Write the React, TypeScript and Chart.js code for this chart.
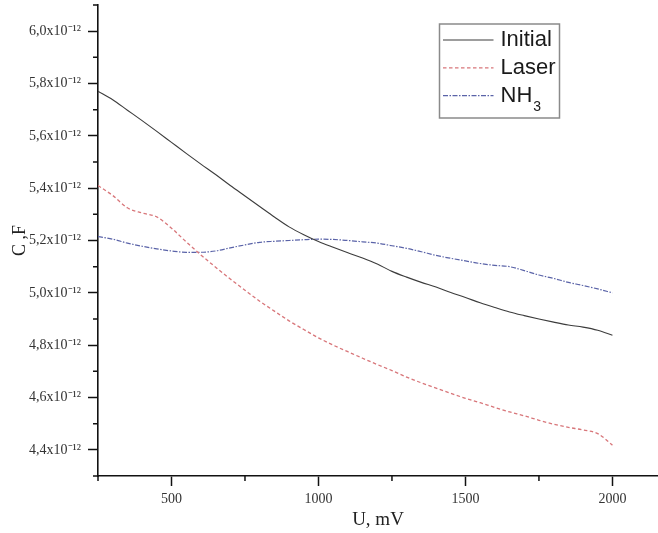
import React, { useEffect, useRef } from "react";
import { Chart, registerables } from "chart.js";

Chart.register(...registerables);

// U, mV
const voltage = [
  250, 300, 350, 400, 450, 500, 550, 600, 650, 700, 750, 800, 850, 900, 950, 1000,
  1050, 1100, 1150, 1200, 1250, 1300, 1350, 1400, 1450, 1500, 1550, 1600, 1650,
  1700, 1750, 1800, 1850, 1900, 1950, 2000,
];

// C, x10^-12 F
const initialC = [
  5.770, 5.738, 5.698, 5.658, 5.617, 5.575, 5.533, 5.492, 5.452, 5.410, 5.370,
  5.330, 5.290, 5.252, 5.222, 5.196, 5.174, 5.153, 5.133, 5.110, 5.082, 5.060,
  5.040, 5.022, 5.001, 4.982, 4.962, 4.944, 4.927, 4.913, 4.900, 4.888, 4.877,
  4.869, 4.857, 4.838,
];

const laserC = [
  5.410, 5.372, 5.325, 5.305, 5.290, 5.247, 5.195, 5.145, 5.098, 5.053, 5.010,
  4.968, 4.930, 4.893, 4.860, 4.828, 4.800, 4.775, 4.750, 4.726, 4.703, 4.678,
  4.656, 4.636, 4.616, 4.597, 4.580, 4.562, 4.545, 4.530, 4.513, 4.498, 4.486,
  4.476, 4.462, 4.418,
];

const nh3C = [
  5.215, 5.205, 5.190, 5.178, 5.168, 5.160, 5.155, 5.155, 5.160, 5.172, 5.183,
  5.193, 5.197, 5.200, 5.203, 5.205, 5.204, 5.200, 5.195, 5.190, 5.180, 5.170,
  5.157, 5.143, 5.132, 5.122, 5.112, 5.105, 5.100, 5.085, 5.068, 5.055, 5.040,
  5.028, 5.015, 5.000,
];

const seriesNames = ["Initial", "Laser", "NH₃"];

const xMajorTicks = [500, 1000, 1500, 2000];
const xMinorTicks = [250, 750, 1250, 1750];
const yMajorTicks = [4.4, 4.6, 4.8, 5.0, 5.2, 5.4, 5.6, 5.8, 6.0];
const yMinorTicks = [4.3, 4.5, 4.7, 4.9, 5.1, 5.3, 5.5, 5.7, 5.9, 6.1];

const xTitle = "U, mV";
const yTitle = "C ,F";

const SERIF = "'Liberation Serif', 'Times New Roman', serif";
const SANS = "'Liberation Sans', Arial, sans-serif";

const minorTickPlugin = {
  id: "minorTicks",
  afterDraw(chart: any, _args: any, opts: any) {
    const { ctx, chartArea } = chart;
    const xs = chart.scales.x;
    const ys = chart.scales.y;
    ctx.save();
    ctx.strokeStyle = opts.color;
    ctx.lineWidth = opts.width;
    ctx.beginPath();
    xMinorTicks.forEach((v) => {
      const px = xs.getPixelForValue(v);
      ctx.moveTo(px, chartArea.bottom);
      ctx.lineTo(px, chartArea.bottom + opts.length);
    });
    yMinorTicks.forEach((v) => {
      const py = ys.getPixelForValue(v);
      ctx.moveTo(chartArea.left, py);
      ctx.lineTo(chartArea.left - opts.length, py);
    });
    ctx.stroke();
    ctx.restore();
  },
};

const boxLegendPlugin = {
  id: "boxLegend",
  afterDraw(chart: any, _args: any, o: any) {
    const ctx = chart.ctx;
    ctx.save();
    ctx.strokeStyle = o.borderColor;
    ctx.lineWidth = o.borderWidth;
    ctx.strokeRect(o.left, o.top, o.width, o.height);
    chart.data.datasets.forEach((ds: any, i: number) => {
      const y = o.top + o.firstRow + i * o.rowGap;
      ctx.beginPath();
      ctx.setLineDash(ds.borderDash || []);
      ctx.strokeStyle = ds.borderColor;
      ctx.lineWidth = ds.borderWidth;
      ctx.moveTo(o.left + o.lineStart, y);
      ctx.lineTo(o.left + o.lineEnd, y);
      ctx.stroke();
      ctx.setLineDash([]);
      ctx.fillStyle = o.textColor;
      ctx.textBaseline = "middle";
      ctx.textAlign = "left";
      let x = o.left + o.textStart;
      const label: string = ds.label;
      for (const ch of label) {
        const code = ch.charCodeAt(0);
        if (code >= 0x2080 && code <= 0x2089) {
          ctx.font = `${o.subSize}px ${SANS}`;
          const s = String(code - 0x2080);
          ctx.fillText(s, x + 1, y + o.subOffset);
          x += ctx.measureText(s).width + 1;
        } else {
          ctx.font = `${o.fontSize}px ${SANS}`;
          ctx.fillText(ch, x, y);
          x += ctx.measureText(ch).width;
        }
      }
    });
    ctx.restore();
  },
};

function toPoints(ys: number[]) {
  return voltage.map((x, i) => ({ x, y: ys[i] }));
}

export default function App() {
  const canvasRef = useRef<HTMLCanvasElement | null>(null);

  useEffect(() => {
    if (!canvasRef.current) return;
    const chart = new Chart(canvasRef.current, {
      type: "line",
      data: {
        datasets: [
          {
            label: seriesNames[0],
            data: toPoints(initialC),
            borderColor: "#3c3c3c",
            borderWidth: 1.1,
            pointRadius: 0,
            cubicInterpolationMode: "monotone",
            fill: false,
          },
          {
            label: seriesNames[1],
            data: toPoints(laserC),
            borderColor: "#d8767a",
            borderWidth: 1.3,
            borderDash: [3.5, 2.5],
            pointRadius: 0,
            cubicInterpolationMode: "monotone",
            fill: false,
          },
          {
            label: seriesNames[2],
            data: toPoints(nh3C),
            borderColor: "#5a63a8",
            borderWidth: 1.2,
            borderDash: [5, 1.5, 1.5, 1.5],
            pointRadius: 0,
            cubicInterpolationMode: "monotone",
            fill: false,
          },
        ],
      },
      options: {
        animation: false,
        responsive: true,
        maintainAspectRatio: false,
        layout: { padding: { top: 5, right: 0, left: 0, bottom: 0 } },
        plugins: {
          legend: { display: false },
          tooltip: { enabled: false },
          minorTicks: { color: "#111", width: 1.5, length: 5 },
          boxLegend: {
            left: 439.5,
            top: 24,
            width: 120,
            height: 94,
            borderColor: "#8a8a8a",
            borderWidth: 1.5,
            firstRow: 16,
            rowGap: 27.8,
            lineStart: 3.5,
            lineEnd: 54,
            textStart: 61,
            fontSize: 22,
            subSize: 14,
            subOffset: 12,
            textColor: "#1a1a1a",
          },
        } as any,
        scales: {
          x: {
            type: "linear",
            min: 250,
            max: 2155,
            afterBuildTicks: (s: any) => {
              s.ticks = xMajorTicks.map((v) => ({ value: v }));
            },
            afterFit: (s: any) => {
              s.height = 57;
              s.paddingLeft = 0;
              s.paddingRight = 0;
            },
            grid: {
              display: true,
              drawOnChartArea: false,
              drawTicks: true,
              tickLength: 10,
              tickColor: "#111",
              tickWidth: 1.5,
            },
            border: { display: true, color: "#111", width: 1.6 },
            ticks: {
              autoSkip: false,
              maxRotation: 0,
              padding: 5,
              color: "#333",
              font: { family: SERIF, size: 14 },
              callback: (v: any) => String(v),
            },
            title: {
              display: true,
              text: xTitle,
              color: "#222",
              font: { family: SERIF, size: 19 },
              padding: { top: 0, bottom: 2 },
            },
          },
          y: {
            type: "linear",
            min: 4.3,
            max: 6.1,
            afterBuildTicks: (s: any) => {
              s.ticks = yMajorTicks.map((v) => ({ value: v }));
            },
            afterFit: (s: any) => {
              s.width = 98;
              s.paddingTop = 0;
              s.paddingBottom = 0;
            },
            grid: {
              display: true,
              drawOnChartArea: false,
              drawTicks: true,
              tickLength: 10,
              tickColor: "#111",
              tickWidth: 1.5,
            },
            border: { display: true, color: "#111", width: 1.6 },
            ticks: {
              autoSkip: false,
              padding: 7,
              color: "#333",
              font: { family: SERIF, size: 14 },
              callback: (v: any) =>
                Number(v).toFixed(1).replace(".", ",") + "x10⁻¹²",
            },
            title: {
              display: true,
              text: yTitle,
              color: "#222",
              font: { family: SERIF, size: 18 },
              padding: { top: 9, bottom: 0 },
            },
          },
        },
      },
      plugins: [minorTickPlugin, boxLegendPlugin],
    } as any);
    return () => chart.destroy();
  }, []);

  return (
    <div
      style={{
        position: "absolute",
        left: 0,
        top: 0,
        width: 658,
        height: 533,
        background: "#fff",
      }}
    >
      <canvas ref={canvasRef} />
    </div>
  );
}
